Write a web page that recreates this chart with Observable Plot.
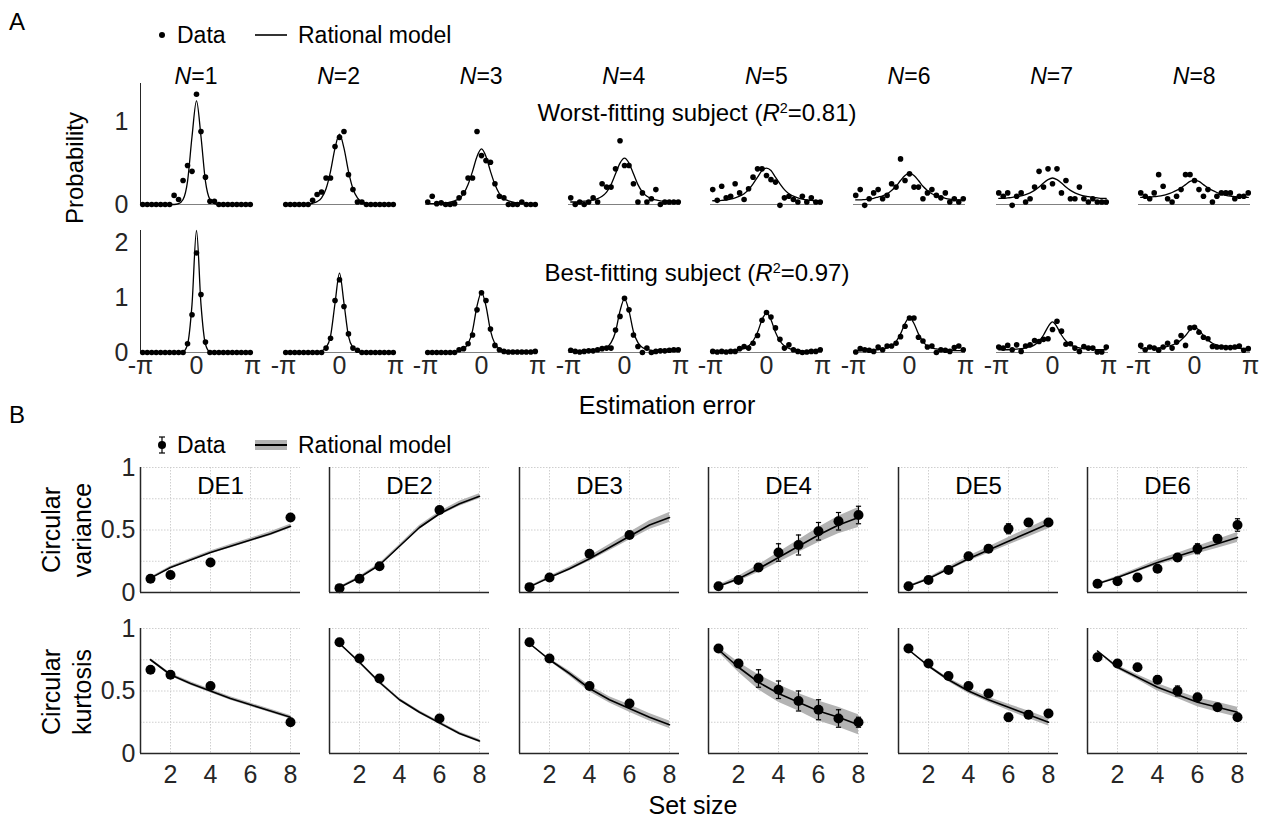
<!DOCTYPE html>
<html><head><meta charset="utf-8">
<script src="https://cdn.jsdelivr.net/npm/d3@7"></script>
<script src="https://cdn.jsdelivr.net/npm/@observablehq/plot@0.6"></script>
<style>
body{margin:0;background:#fff;}
#fig{position:relative;width:1263px;height:820px;overflow:hidden;font-family:"Liberation Sans",Arial,Helvetica,sans-serif;color:#000;background:#fff;}
</style></head>
<body><div id="fig"></div>
<script>
// ---------------- DATA ----------------
// Panel A: bin centres (radians) of the estimation-error histograms
const binX = [-3.0159,-2.7646,-2.5133,-2.2619,-2.0106,-1.7593,-1.5080,-1.2566,-1.0053,-0.7540,-0.5027,-0.2513,0,0.2513,0.5027,0.7540,1.0053,1.2566,1.5080,1.7593,2.0106,2.2619,2.5133,2.7646,3.0159];
const nValues = [1,2,3,4,5,6,7,8];
const xTickValsA = [-Math.PI, 0, Math.PI];
const xTickLabelsA = ["-π", "0", "π"];

// Worst-fitting subject: data
const worstN1 = [0,0,0,0,0,0,0,0.11,0.06,0.29,0.47,0.40,1.33,0.88,0.33,0.04,0.04,0,0,0,0,0,0,0,0];
const worstN2 = [0,0,0,0,0,0,0.05,0.12,0.15,0.32,0.32,0.70,0.81,0.88,0.36,0.18,0.03,0.03,0,0,0,0,0,0,0];
const worstN3 = [0.03,0.10,0.01,0.02,0,0,0.01,0.08,0.14,0.32,0.32,0.88,0.59,0.53,0.51,0.25,0.10,0.08,0,0,0,0.03,0,0,0];
const worstN4 = [0.08,0,0.03,0,0.03,0.08,0.03,0.25,0.21,0.21,0.43,0.77,0.47,0.47,0.25,0.03,0.14,0.03,0.07,0.18,0,0.03,0.03,0.03,0.03];
const worstN5 = [0.18,0.05,0.22,0.08,0.10,0.25,0.14,0.06,0.19,0.33,0.43,0.43,0.35,0.30,0.27,-0.01,0.08,0.10,0.06,0.03,0.10,0.03,0.08,0.03,0.03];
const worstN6 = [0.11,0.18,-0.01,0.07,0.14,0.18,0.07,0.11,0.25,0.21,0.55,0.29,0.37,0.21,0.21,0.07,0.14,0.18,0.11,0.08,0.14,0.03,0.07,0.03,0.07];
const worstN7 = [0.14,0.10,0.14,-0.01,0.10,0.14,0.03,0.07,0.21,0.40,0.21,0.43,0.25,0.43,0.14,0.29,0.07,0.07,0.21,0.07,0.03,0.07,0.03,0.03,0.03];
const worstN8 = [0.14,0.10,0.07,0.14,0.36,0.22,0.07,0.03,0.10,0.18,0.36,0.36,0.29,0.18,0.10,0.18,0.03,0.10,0.14,0.14,0.14,0.07,0.10,0.10,0.14];
// Worst-fitting subject: rational model
const worstModelN1 = [0,0,0,0,0,0,0,0,0.01,0.06,0.28,0.82,1.25,0.82,0.28,0.06,0.01,0,0,0,0,0,0,0,0];
const worstModelN2 = [0,0,0,0,0.005,0.005,0.015,0.035,0.08,0.19,0.40,0.68,0.85,0.68,0.40,0.19,0.08,0.035,0.015,0.005,0.005,0,0,0,0];
const worstModelN3 = [0.01,0.01,0.012,0.015,0.02,0.03,0.045,0.07,0.13,0.24,0.40,0.58,0.67,0.58,0.40,0.24,0.13,0.07,0.045,0.03,0.02,0.015,0.012,0.01,0.01];
const worstModelN4 = [0.03,0.03,0.035,0.04,0.045,0.055,0.07,0.10,0.15,0.24,0.37,0.50,0.56,0.50,0.37,0.24,0.15,0.10,0.07,0.055,0.045,0.04,0.035,0.03,0.03];
const worstModelN5 = [0.045,0.045,0.05,0.055,0.065,0.08,0.10,0.13,0.18,0.25,0.33,0.41,0.44,0.41,0.33,0.25,0.18,0.13,0.10,0.08,0.065,0.055,0.05,0.045,0.045];
const worstModelN6 = [0.055,0.055,0.06,0.065,0.075,0.09,0.105,0.13,0.17,0.22,0.29,0.35,0.38,0.35,0.29,0.22,0.17,0.13,0.105,0.09,0.075,0.065,0.06,0.055,0.055];
const worstModelN7 = [0.075,0.075,0.08,0.085,0.095,0.105,0.12,0.14,0.17,0.21,0.26,0.30,0.32,0.30,0.26,0.21,0.17,0.14,0.12,0.105,0.095,0.085,0.08,0.075,0.075];
const worstModelN8 = [0.085,0.085,0.09,0.095,0.10,0.11,0.125,0.145,0.17,0.20,0.24,0.28,0.29,0.28,0.24,0.20,0.17,0.145,0.125,0.11,0.10,0.095,0.09,0.085,0.085];

// Best-fitting subject: data
const bestN1 = [0,0,0,0,0,0,0,0,0,0,0.16,0.69,1.82,1.06,0.19,0,0,0,0,0,0,0,0,0,0];
const bestN2 = [0,0,0,0,0,0,0,0,0,0.08,0.26,0.95,1.33,0.84,0.34,0.08,0.04,0,0,0,0,0,0,0,0];
const bestN3 = [0,0,0,0,0,0,0,0.05,0.07,0.16,0.32,0.78,1.09,0.95,0.43,0.13,0.05,0.02,0.01,0.01,0.01,0.01,0.01,0.01,0.02];
const bestN4 = [0.04,0.02,0.01,0.02,0.03,0.03,0.05,0.07,0.08,0.08,0.41,0.66,0.99,0.78,0.32,0.11,0,0.08,0,0.02,0.03,0.03,0.04,0.05,0.05];
const bestN5 = [0.02,0.01,0.02,0.01,0.02,0.02,0.07,0.11,0.08,0.17,0.31,0.59,0.73,0.65,0.45,0.24,0.08,0.14,0.05,0.02,0,0.01,0.02,0.02,0.05];
const bestN6 = [0.01,0.07,0.05,0.04,0.02,0.10,0.05,0.12,0.12,0.17,0.29,0.48,0.63,0.63,0.28,0.21,0.10,0.12,0,0.05,0.04,0.02,0.09,0.12,0.05];
const bestN7 = [0.10,0.08,0.13,0.05,0.14,0.02,0.12,0.14,0.22,0.20,0.24,0.25,0.42,0.57,0.39,0.15,0.16,0.08,0.02,0.11,0.08,0.08,0.01,0.01,0.10];
const bestN8 = [0.13,0.05,0.10,0.08,0.04,0.10,0.17,0.08,0.19,0.31,0.13,0.45,0.46,0.37,0.28,0.25,0.11,0.10,0.10,0.09,0.09,0.10,0.12,0.04,0.07];
// Best-fitting subject: rational model
const bestModelN1 = [0,0,0,0,0,0,0,0,0,0.01,0.15,0.88,2.23,0.88,0.15,0.01,0,0,0,0,0,0,0,0,0];
const bestModelN2 = [0,0,0,0,0,0,0,0.01,0.03,0.09,0.30,0.90,1.45,0.90,0.30,0.09,0.03,0.01,0,0,0,0,0,0,0];
const bestModelN3 = [0.01,0.01,0.01,0.01,0.01,0.015,0.02,0.035,0.07,0.16,0.40,0.85,1.10,0.85,0.40,0.16,0.07,0.035,0.02,0.015,0.01,0.01,0.01,0.01,0.01];
const bestModelN4 = [0.025,0.025,0.025,0.025,0.025,0.03,0.04,0.055,0.09,0.18,0.38,0.76,0.98,0.76,0.38,0.18,0.09,0.055,0.04,0.03,0.025,0.025,0.025,0.025,0.025];
const bestModelN5 = [0.025,0.025,0.025,0.025,0.03,0.04,0.05,0.075,0.12,0.21,0.37,0.60,0.72,0.60,0.37,0.21,0.12,0.075,0.05,0.04,0.03,0.025,0.025,0.025,0.025];
const bestModelN6 = [0.035,0.035,0.035,0.04,0.045,0.05,0.065,0.085,0.12,0.20,0.34,0.53,0.64,0.53,0.34,0.20,0.12,0.085,0.065,0.05,0.045,0.04,0.035,0.035,0.035];
const bestModelN7 = [0.05,0.05,0.05,0.055,0.06,0.07,0.085,0.105,0.14,0.21,0.32,0.47,0.56,0.47,0.32,0.21,0.14,0.105,0.085,0.07,0.06,0.055,0.05,0.05,0.05];
const bestModelN8 = [0.07,0.07,0.075,0.08,0.085,0.095,0.11,0.135,0.17,0.23,0.31,0.41,0.46,0.41,0.31,0.23,0.17,0.135,0.11,0.095,0.085,0.08,0.075,0.07,0.07];

// Panel B
const deLabels = ["DE1","DE2","DE3","DE4","DE5","DE6"];
const setSizes = [1,2,3,4,5,6,7,8];
const deSizes1 = [1,2,4,8], deSizes2 = [1,2,3,6], deSizes3 = [1,2,4,6];
const deSizes4 = [1,2,3,4,5,6,7,8], deSizes5 = [1,2,3,4,5,6,7,8], deSizes6 = [1,2,3,4,5,6,7,8];
// Circular variance: data mean and error-bar half width
const varMean1 = [0.11,0.14,0.24,0.60], varErr1 = [0.01,0.01,0.01,0.02];
const varMean2 = [0.035,0.11,0.21,0.66], varErr2 = [0.01,0.01,0.02,0.01];
const varMean3 = [0.043,0.12,0.31,0.46], varErr3 = [0.01,0.01,0.02,0.02];
const varMean4 = [0.05,0.10,0.20,0.32,0.38,0.49,0.57,0.62], varErr4 = [0.01,0.015,0.03,0.07,0.08,0.07,0.07,0.07];
const varMean5 = [0.05,0.10,0.18,0.29,0.35,0.51,0.56,0.56], varErr5 = [0.01,0.01,0.01,0.01,0.02,0.04,0.03,0.02];
const varMean6 = [0.07,0.09,0.12,0.19,0.28,0.35,0.43,0.54], varErr6 = [0.01,0.01,0.01,0.01,0.03,0.04,0.03,0.05];
// Circular variance: model (set sizes 1..8) and band half width
const varModel1 = [0.115,0.20,0.26,0.32,0.37,0.42,0.47,0.53], varBand1 = [0.008,0.01,0.012,0.012,0.014,0.014,0.016,0.016];
const varModel2 = [0.04,0.12,0.22,0.37,0.52,0.63,0.71,0.77], varBand2 = [0.006,0.01,0.012,0.012,0.016,0.016,0.02,0.02];
const varModel3 = [0.045,0.12,0.19,0.27,0.36,0.45,0.54,0.60], varBand3 = [0.005,0.01,0.015,0.02,0.025,0.03,0.035,0.04];
const varModel4 = [0.05,0.11,0.19,0.28,0.37,0.46,0.54,0.60], varBand4 = [0.01,0.02,0.03,0.04,0.05,0.06,0.07,0.08];
const varModel5 = [0.05,0.11,0.19,0.27,0.34,0.41,0.48,0.55], varBand5 = [0.005,0.01,0.015,0.02,0.025,0.03,0.035,0.04];
const varModel6 = [0.07,0.12,0.18,0.24,0.29,0.34,0.39,0.44], varBand6 = [0.005,0.01,0.015,0.02,0.025,0.03,0.035,0.04];
// Circular kurtosis: data
const kurMean1 = [0.67,0.63,0.54,0.25], kurErr1 = [0.01,0.01,0.02,0.01];
const kurMean2 = [0.89,0.76,0.60,0.28], kurErr2 = [0.01,0.02,0.03,0.01];
const kurMean3 = [0.89,0.76,0.54,0.40], kurErr3 = [0.01,0.01,0.02,0.01];
const kurMean4 = [0.84,0.72,0.60,0.51,0.42,0.35,0.28,0.25], kurErr4 = [0.02,0.03,0.07,0.07,0.08,0.08,0.07,0.04];
const kurMean5 = [0.84,0.72,0.62,0.54,0.48,0.29,0.31,0.32], kurErr5 = [0.01,0.01,0.02,0.01,0.02,0.03,0.03,0.01];
const kurMean6 = [0.77,0.72,0.69,0.59,0.50,0.45,0.37,0.29], kurErr6 = [0.01,0.01,0.01,0.03,0.04,0.03,0.02,0.02];
// Circular kurtosis: model
const kurModel1 = [0.75,0.63,0.56,0.50,0.44,0.39,0.34,0.29], kurBand1 = [0.01,0.012,0.014,0.014,0.014,0.014,0.014,0.014];
const kurModel2 = [0.88,0.73,0.57,0.43,0.33,0.245,0.16,0.10], kurBand2 = [0.006,0.01,0.012,0.012,0.012,0.012,0.012,0.012];
const kurModel3 = [0.88,0.75,0.64,0.52,0.43,0.36,0.29,0.23], kurBand3 = [0.005,0.01,0.02,0.025,0.025,0.03,0.03,0.03];
const kurModel4 = [0.83,0.69,0.57,0.48,0.41,0.34,0.29,0.23], kurBand4 = [0.02,0.04,0.06,0.07,0.07,0.08,0.08,0.08];
const kurModel5 = [0.83,0.70,0.59,0.50,0.43,0.37,0.31,0.25], kurBand5 = [0.005,0.01,0.015,0.02,0.02,0.025,0.03,0.03];
const kurModel6 = [0.82,0.69,0.61,0.53,0.47,0.41,0.37,0.33], kurBand6 = [0.005,0.015,0.02,0.03,0.03,0.035,0.04,0.04];
const yTicksB = [0, 0.5, 1], gridYB = [0.25, 0.5, 0.75, 1], xTicksB = [2, 4, 6, 8];

// ---------------- DRAWING ----------------
const fig = document.getElementById("fig");
const FONT = '"Liberation Sans", Arial, Helvetica, sans-serif';
const svgStyle = fs => `background: transparent; overflow: visible; font-family: ${FONT}; font-size: ${fs}px; color: #262626;`;
function put(node, left, top) {
  node.style.position = "absolute"; node.style.left = left + "px"; node.style.top = top + "px";
  node.style.maxWidth = "none";
  fig.appendChild(node);
}
function label(html, x, y, o = {}) {
  const d = document.createElement("div");
  d.innerHTML = html;
  const tx = o.anchor === "start" ? "0" : "-50%";
  d.style.cssText = `position:absolute;left:${x}px;top:${y}px;font-size:${o.size || 24}px;line-height:${o.lh || 1};white-space:nowrap;color:${o.color || "#000"};text-align:center;transform:translate(${tx},-50%)${o.rotate ? " rotate(-90deg)" : ""};`;
  fig.appendChild(d);
}

const PAD = {l: 60, r: 24, t: 10, b: 50};
// Panel A layout
const A_LEFT = 140, A_STEP = 142.6, A_W = 112;
const A_ROWS = [
  {top: 83, base: 204, yDomain: [0, 1.46], yTicks: [0, 1], showX: false,
   data: [worstN1, worstN2, worstN3, worstN4, worstN5, worstN6, worstN7, worstN8],
   model: [worstModelN1, worstModelN2, worstModelN3, worstModelN4, worstModelN5, worstModelN6, worstModelN7, worstModelN8]},
  {top: 230, base: 352, yDomain: [0, 2.23], yTicks: [0, 1, 2], showX: true,
   data: [bestN1, bestN2, bestN3, bestN4, bestN5, bestN6, bestN7, bestN8],
   model: [bestModelN1, bestModelN2, bestModelN3, bestModelN4, bestModelN5, bestModelN6, bestModelN7, bestModelN8]}
];
const xDomainA = [-Math.PI, Math.PI];
A_ROWS.forEach(row => {
  nValues.forEach((n, k) => {
    const pts = binX.map((x, i) => ({x, y: row.data[k][i]}));
    const mdl = binX.map((x, i) => ({x, y: row.model[k][i]}));
    const marks = [Plot.ruleY([0], {stroke: "#808080", strokeWidth: 1})];
    if (k === 0) marks.push(Plot.ruleX([xDomainA[0]], {stroke: "#262626", strokeWidth: 1}));
    marks.push(Plot.line(mdl, {x: "x", y: "y", curve: "monotone-x", stroke: "black", strokeWidth: 1.3}));
    marks.push(Plot.dot(pts, {x: "x", y: "y", r: 2.8, fill: "black"}));
    const svg = Plot.plot({
      width: A_W + PAD.l + PAD.r, height: row.base - row.top + PAD.t + PAD.b,
      marginLeft: PAD.l, marginRight: PAD.r, marginTop: PAD.t, marginBottom: PAD.b,
      style: svgStyle(25),
      x: {domain: xDomainA, ticks: xTickValsA, tickFormat: d => xTickLabelsA[xTickValsA.indexOf(d)], tickSize: 0, tickPadding: 4, label: null, axis: row.showX ? "bottom" : null},
      y: {domain: row.yDomain, ticks: row.yTicks, tickFormat: d => String(d), tickSize: 0, tickPadding: 12, label: null, axis: k === 0 ? "left" : null},
      marks
    });
    put(svg, A_LEFT + A_STEP * k - PAD.l, row.top - PAD.t);
    if (row.showX === false) label(`<i>N</i>=${n}`, A_LEFT + A_STEP * k + A_W / 2, 76, {size: 23});
  });
});

// Panel B layout
const B_LEFT = 140, B_STEP = 189.4, B_W = 160;
const xDomainB = [0.5, 8.5];
const capSymbol = {draw(ctx, size) { const h = Math.sqrt(size / Math.PI); ctx.moveTo(-h, 0); ctx.lineTo(h, 0); }};
const B_ROWS = [
  {top: 467, base: 592, showX: false, showTitle: true,
   sizes: [deSizes1, deSizes2, deSizes3, deSizes4, deSizes5, deSizes6],
   mean: [varMean1, varMean2, varMean3, varMean4, varMean5, varMean6],
   err: [varErr1, varErr2, varErr3, varErr4, varErr5, varErr6],
   model: [varModel1, varModel2, varModel3, varModel4, varModel5, varModel6],
   band: [varBand1, varBand2, varBand3, varBand4, varBand5, varBand6]},
  {top: 628, base: 753, showX: true, showTitle: false,
   sizes: [deSizes1, deSizes2, deSizes3, deSizes4, deSizes5, deSizes6],
   mean: [kurMean1, kurMean2, kurMean3, kurMean4, kurMean5, kurMean6],
   err: [kurErr1, kurErr2, kurErr3, kurErr4, kurErr5, kurErr6],
   model: [kurModel1, kurModel2, kurModel3, kurModel4, kurModel5, kurModel6],
   band: [kurBand1, kurBand2, kurBand3, kurBand4, kurBand5, kurBand6]}
];
B_ROWS.forEach(row => {
  deLabels.forEach((de, k) => {
    const pts = row.sizes[k].map((s, i) => ({x: s, y: row.mean[k][i], lo: row.mean[k][i] - row.err[k][i], hi: row.mean[k][i] + row.err[k][i]}));
    const mdl = setSizes.map((s, i) => ({x: s, y: row.model[k][i], lo: row.model[k][i] - row.band[k][i], hi: row.model[k][i] + row.band[k][i]}));
    const grid = {stroke: "#c9c9c9", strokeWidth: 0.9, strokeDasharray: "1.5,1.5"};
    const marks = [
      Plot.ruleX(xTicksB, grid),
      Plot.ruleY(gridYB, grid),
      Plot.areaY(mdl, {x: "x", y1: "lo", y2: "hi", fill: "#b3b3b3"}),
      Plot.line(mdl, {x: "x", y: "y", stroke: "black", strokeWidth: 1.6}),
      Plot.ruleX(pts, {x: "x", y1: "lo", y2: "hi", stroke: "black", strokeWidth: 1.2}),
      Plot.dot(pts, {x: "x", y: "lo", symbol: capSymbol, r: 2.6, stroke: "black", fill: "none", strokeWidth: 1.2}),
      Plot.dot(pts, {x: "x", y: "hi", symbol: capSymbol, r: 2.6, stroke: "black", fill: "none", strokeWidth: 1.2}),
      Plot.dot(pts, {x: "x", y: "y", r: 5, fill: "black"}),
      Plot.ruleY([0], {stroke: "#262626", strokeWidth: 1.5}),
      Plot.ruleX([xDomainB[0]], {stroke: "#262626", strokeWidth: 1.5})
    ];
    if (row.showTitle) marks.push(Plot.text([de], {text: d => d, frameAnchor: "top", lineAnchor: "middle", dy: 19, fontSize: 24, fill: "black"}));
    const svg = Plot.plot({
      width: B_W + PAD.l + PAD.r, height: row.base - row.top + PAD.t + PAD.b,
      marginLeft: PAD.l, marginRight: PAD.r, marginTop: PAD.t, marginBottom: PAD.b,
      style: svgStyle(25),
      x: {domain: xDomainB, ticks: xTicksB, tickFormat: d => String(d), tickSize: 0, tickPadding: 12, label: null, axis: row.showX ? "bottom" : null},
      y: {domain: [0, 1], ticks: yTicksB, tickFormat: d => String(d), tickSize: 0, tickPadding: 5, label: null, axis: k === 0 ? "left" : null},
      marks
    });
    put(svg, B_LEFT + B_STEP * k - PAD.l, row.top - PAD.t);
  });
});

// ---------------- TEXT & LEGENDS ----------------
label("A", 17, 22, {size: 24});
label("B", 17, 415, {size: 24});
label("Worst-fitting subject (<i>R</i><span style='font-size:0.6em;position:relative;top:-0.55em'>2</span>=0.81)", 697, 113, {size: 24});
label("Best-fitting subject (<i>R</i><span style='font-size:0.6em;position:relative;top:-0.55em'>2</span>=0.97)", 697, 273, {size: 24});
label("Probability", 75, 168, {size: 24, rotate: true});
label("Estimation error", 667, 405, {size: 25});
label("Circular<br>variance", 67, 530, {size: 25, rotate: true, lh: 1.25});
label("Circular<br>kurtosis", 67, 692, {size: 25, rotate: true, lh: 1.25});
label("Set size", 693, 805, {size: 25});

// legend A
const legA = document.createElement("div");
legA.innerHTML = `<svg width="150" height="30" style="position:absolute;left:150px;top:20px;overflow:visible">
<circle cx="12" cy="15" r="3" fill="black"/>
<line x1="105" x2="137" y1="15" y2="15" stroke="black" stroke-width="1.6"/></svg>`;
fig.appendChild(legA);
label("Data", 177, 35, {size: 23, anchor: "start"});
label("Rational model", 298, 35, {size: 23, anchor: "start"});
// legend B
const legB = document.createElement("div");
legB.innerHTML = `<svg width="150" height="30" style="position:absolute;left:150px;top:430px;overflow:visible">
<line x1="12" x2="12" y1="7" y2="23" stroke="black" stroke-width="1.2"/>
<line x1="9" x2="15" y1="7" y2="7" stroke="black" stroke-width="1.2"/>
<line x1="9" x2="15" y1="23" y2="23" stroke="black" stroke-width="1.2"/>
<circle cx="12" cy="15" r="4" fill="black"/>
<rect x="105" y="10" width="32" height="10" fill="#b3b3b3"/>
<line x1="105" x2="137" y1="15" y2="15" stroke="black" stroke-width="2"/></svg>`;
fig.appendChild(legB);
label("Data", 177, 445, {size: 23, anchor: "start"});
label("Rational model", 298, 445, {size: 23, anchor: "start"});
</script></body></html>
